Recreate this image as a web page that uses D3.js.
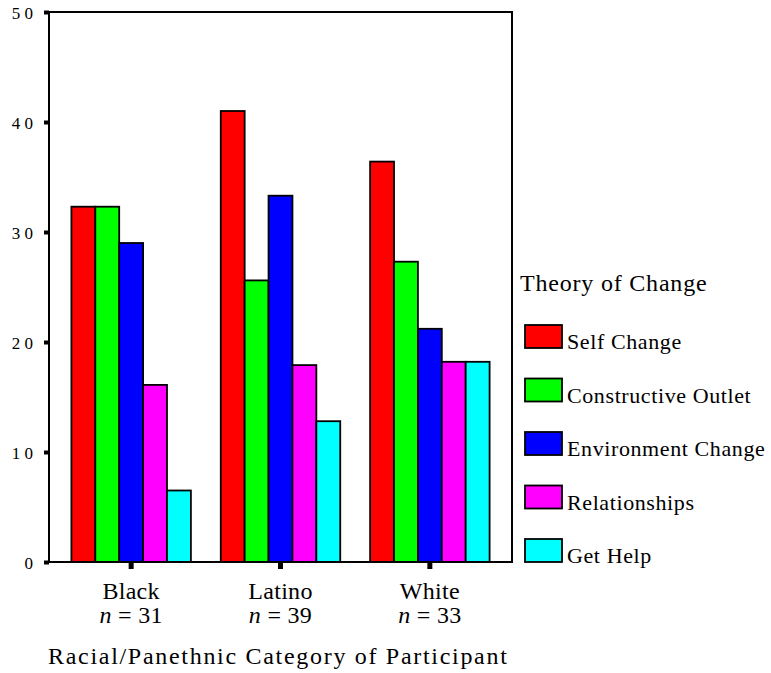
<!DOCTYPE html>
<html>
<head>
<meta charset="utf-8">
<script src="https://cdn.jsdelivr.net/npm/d3@7"></script>
<style>
  body { margin: 0; background: #fff; }
  text { font-family: "Liberation Serif", "Times New Roman", serif; fill: #000; }
</style>
</head>
<body>
<script>
// data, percent of participants in each group
var groups = ["Black", "Latino", "White"];
var groupN = [31, 39, 33];
var theories = ["Self Change", "Constructive Outlet", "Environment Change", "Relationships", "Get Help"];
var colors = ["#ff0000", "#00ff00", "#0000ff", "#ff00ff", "#00ffff"];
var selfChange = [32.3, 41.0, 36.4];
var constructiveOutlet = [32.3, 25.6, 27.3];
var environmentChange = [29.0, 33.3, 21.2];
var relationships = [16.1, 17.9, 18.2];
var getHelp = [6.5, 12.8, 18.2];
var yTicks = [0, 10, 20, 30, 40, 50];
var yTickLabels = ["0", "1 0", "2 0", "3 0", "4 0", "5 0"];

var series = [selfChange, constructiveOutlet, environmentChange, relationships, getHelp];

var width = 771, height = 673;
var plot = {left: 49, right: 512, top: 12, bottom: 562};

var svg = d3.select("body").append("svg")
  .attr("width", width)
  .attr("height", height);

var y = d3.scaleLinear().domain([0, 50]).range([plot.bottom, plot.top]);

var x0 = d3.scaleBand()
  .domain(groups)
  .range([plot.left, plot.right])
  .paddingInner(0.2)
  .paddingOuter(0.15);

var x1 = d3.scaleBand()
  .domain(theories)
  .range([0, x0.bandwidth()]);

// bars
var rows = groups.map(function(g, gi) {
  return theories.map(function(t, ti) {
    return {group: g, theory: t, value: series[ti][gi], color: colors[ti]};
  });
});

svg.append("g").selectAll("g")
  .data(rows)
  .enter().append("g")
  .attr("transform", function(d, i) { return "translate(" + x0(groups[i]) + ",0)"; })
  .selectAll("rect")
  .data(function(d) { return d; })
  .enter().append("rect")
  .attr("x", function(d) { return x1(d.theory); })
  .attr("y", function(d) { return y(d.value); })
  .attr("width", x1.bandwidth())
  .attr("height", function(d) { return y(0) - y(d.value); })
  .attr("fill", function(d) { return d.color; })
  .attr("stroke", "#000")
  .attr("stroke-width", 1.8);

// frame
svg.append("rect")
  .attr("x", plot.left).attr("y", plot.top)
  .attr("width", plot.right - plot.left).attr("height", plot.bottom - plot.top)
  .attr("fill", "none").attr("stroke", "#000").attr("stroke-width", 2);

// y axis
var yAxis = d3.axisLeft(y)
  .tickValues(yTicks)
  .tickSize(5)
  .tickPadding(11)
  .tickFormat(function(d, i) { return yTickLabels[i]; });

var gy = svg.append("g")
  .attr("transform", "translate(" + plot.left + ",0)")
  .call(yAxis);
gy.select(".domain").remove();
gy.selectAll(".tick line").attr("stroke", "#000").attr("stroke-width", 4);
gy.selectAll(".tick text")
  .style("font-family", "Liberation Serif")
  .style("font-size", "17px")
  .attr("dy", "0.4em");

// x axis
var xAxis = d3.axisBottom(x0).tickSize(7).tickFormat("");
var gx = svg.append("g")
  .attr("transform", "translate(0," + plot.bottom + ")")
  .call(xAxis);
gx.select(".domain").remove();
gx.selectAll(".tick line").attr("stroke", "#000").attr("stroke-width", 5);

// category labels
var labels = svg.append("g").selectAll("text")
  .data(groups)
  .enter().append("text")
  .attr("text-anchor", "middle")
  .style("font-size", "24px")
  .style("letter-spacing", "0.3px")
  .attr("x", function(d) { return x0(d) + x0.bandwidth() / 2; });

labels.append("tspan")
  .attr("y", 599)
  .attr("x", function(d) { return x0(d) + x0.bandwidth() / 2; })
  .text(function(d) { return d; });

labels.append("tspan")
  .attr("y", 623)
  .attr("x", function(d) { return x0(d) + x0.bandwidth() / 2; })
  .style("font-style", "italic")
  .text("n")
  .append("tspan")
  .style("font-style", "normal")
  .text(function(d, i) { return " = " + groupN[groups.indexOf(d)]; });

// axis title
svg.append("text")
  .attr("x", 48).attr("y", 664)
  .style("font-size", "24px")
  .style("letter-spacing", "1.7px")
  .text("Racial/Panethnic Category of Participant");

// legend
var legend = svg.append("g").attr("transform", "translate(520,0)");
legend.append("text")
  .attr("x", 0).attr("y", 291)
  .style("font-size", "24px")
  .style("letter-spacing", "0.8px")
  .text("Theory of Change");

var item = legend.selectAll("g.item")
  .data(theories)
  .enter().append("g")
  .attr("class", "item")
  .attr("transform", function(d, i) { return "translate(0," + (325 + i * 53.5) + ")"; });

item.append("rect")
  .attr("x", 5).attr("y", 0)
  .attr("width", 37).attr("height", 23)
  .attr("fill", function(d, i) { return colors[i]; })
  .attr("stroke", "#000").attr("stroke-width", 1.8);

item.append("text")
  .attr("x", 47).attr("y", 24)
  .style("font-size", "22px")
  .style("letter-spacing", "0.6px")
  .text(function(d) { return d; });
</script>
</body>
</html>
